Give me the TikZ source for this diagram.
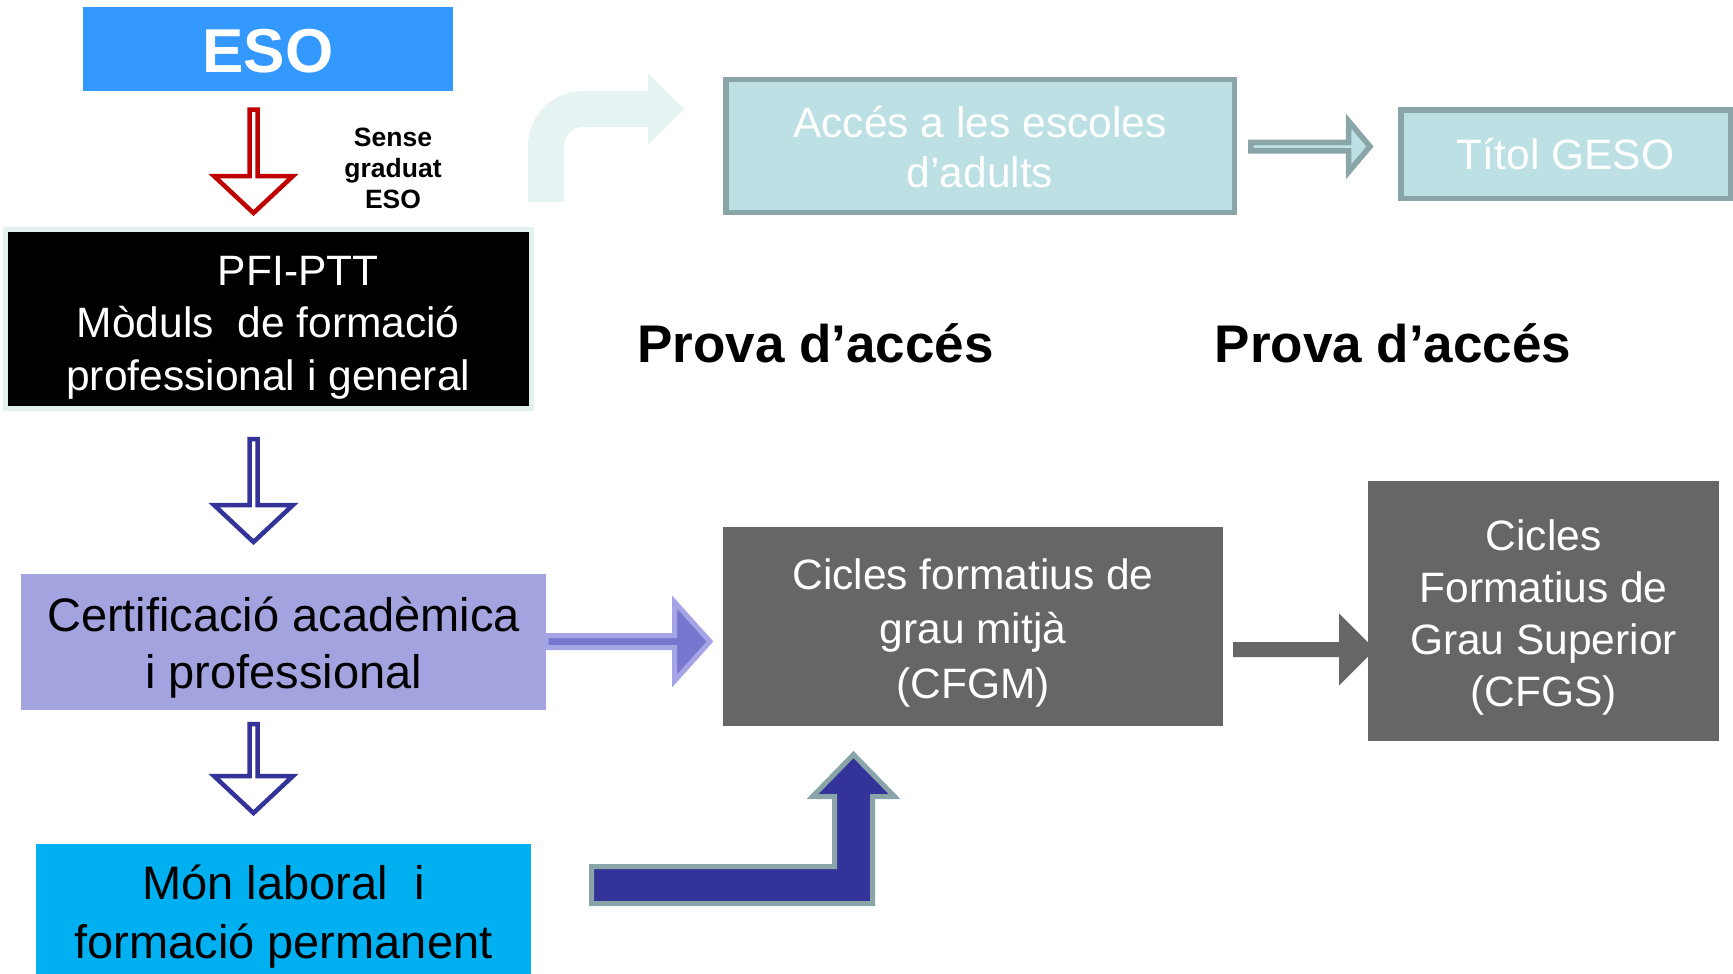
\documentclass[tikz,border=0pt]{standalone}
\usepackage{fontspec}
\setmainfont{Liberation Sans}
\usetikzlibrary{calc}
\definecolor{esoblue}{HTML}{3399FF}
\definecolor{pfiedge}{HTML}{E4F1F1}
\definecolor{certlav}{HTML}{A3A3DF}
\definecolor{monblue}{HTML}{00B0F0}
\definecolor{cfgray}{HTML}{666666}
\definecolor{adfill}{HTML}{BCE0E3}
\definecolor{adedge}{HTML}{89A5A8}
\definecolor{arrownavy}{HTML}{333399}
\definecolor{arrowred}{HTML}{C00000}
\definecolor{lavshaft}{HTML}{7777D0}
\definecolor{lavedge}{HTML}{A5A5E6}
\definecolor{faint}{HTML}{E6F3F3}
\tikzstyle{box}=[rectangle, inner sep=0, align=center]
\tikzstyle{darkbox}=[box, fill=cfgray]
\tikzstyle{adultbox}=[box, fill=adfill, draw=adedge, line width=5.5]
\tikzstyle{boxtext}=[inner sep=0, align=center, font=\fontsize{42.5}{52}\selectfont]
\tikzstyle{hollow}=[fill=white, line width=4.5, line join=miter]
\tikzstyle{prova}=[anchor=base, font=\bfseries\fontsize{53}{60}\selectfont]
% down arrow, white inside: style, top, tip
\newcommand{\downhollow}[3]{%
  \draw[hollow,#1] let \p1=(#2), \p2=(#3) in
    (\x1-4pt,\y1) -- (\x1+4pt,\y1) -- (\x1+4pt,\y2+37pt) -- (\x1+39.5pt,\y2+37pt)
    -- (\x2,\y2) -- (\x1-39.5pt,\y2+37pt) -- (\x1-4pt,\y2+37pt) -- cycle;}
% right arrow: style, tail, tip, shaft half, head half, head length
\newcommand{\blockright}[6]{%
  \path[#1] let \p1=(#2), \p2=(#3) in
    (\x1,\y2+#4) -- (\x2-#6,\y2+#4) -- (\x2-#6,\y2+#5) -- (\p2)
    -- (\x2-#6,\y2-#5) -- (\x2-#6,\y2-#4) -- (\x1,\y2-#4) -- cycle;}
\begin{document}
\begin{tikzpicture}[x=1pt,y=-1pt]
\useasboundingbox (0,0) rectangle (1733,974);
\clip (0,0) rectangle (1733,974);

% faint bent arrow
\fill[faint] (528,202) -- (528,146) arc[start angle=180,end angle=90,radius=55pt]
  -- (648,91) -- (648,73) -- (684,109) -- (648,145) -- (648,127) -- (583,127)
  arc[start angle=90,end angle=180,radius=19pt] -- (564,202) -- cycle;

\node[box, fill=esoblue, minimum width=370, minimum height=84] (eso) at (268,49) {};
\node[boxtext, text=white, font=\bfseries\fontsize{62}{70}\selectfont] (esotext) at ([yshift=-2pt]eso.center) {ESO};
\node[box, fill=black, draw=pfiedge, line width=5, minimum width=525.5, minimum height=178.5] (pfi) at (268.25,318.75) {};
\node[boxtext, text=white, font=\fontsize{42.5}{52.5}\selectfont] (pfitext) at ([yshift=-9pt]pfi.center) {\hspace*{60pt}PFI-PTT\\Mòduls\ \ de formació\\professional i general};
\node[box, fill=certlav, minimum width=525, minimum height=136] (cert) at (283.5,642) {};
\node[boxtext, font=\fontsize{47}{57}\selectfont] (certtext) at ([yshift=-5.5pt]cert.center) {Certificació acadèmica\\i professional};
\node[box, fill=monblue, minimum width=495, minimum height=139] (mon) at (283.5,913.5) {};
\node[boxtext, font=\fontsize{47}{59}\selectfont] (montext) at ([yshift=-3pt]mon.center) {Món laboral\ \ i\\formació permanent};

\node[font=\bfseries\fontsize{26.5}{31}\selectfont, align=center] (sense) at (393,168.5) {Sense\\graduat\\ESO};

\coordinate (redtop) at (253.5,109.5);
\coordinate (redtip) at (253.5,213);
\coordinate (bluetopa) at (253.5,439);
\coordinate (bluetipa) at (253.5,542);
\coordinate (bluetopb) at (253.5,724);
\coordinate (bluetipb) at (253.5,813);
\downhollow{draw=arrowred}{redtop}{redtip}
\downhollow{draw=arrownavy}{bluetopa}{bluetipa}
\downhollow{draw=arrownavy}{bluetopb}{bluetipb}

\node[adultbox, minimum width=508.5, minimum height=132.5] (adults) at (980,146) {};
\node[boxtext, text=white, font=\fontsize{42.5}{50}\selectfont] (adultstext) at ([yshift=-1.5pt]adults.center) {Accés a les escoles\\d’adults};
\node[adultbox, minimum width=329.5, minimum height=88.5] (geso) at (1565.5,154) {};
\node[boxtext, text=white] (gesotext) at (geso.center) {Títol GESO};
\coordinate (gesotail) at (1250.75,146.5);
\coordinate (gesotip) at (1370,146.5);
\blockright{draw=adedge, fill=adfill, line width=5.5, line join=miter}{gesotail}{gesotip}{4.25pt}{25.5pt}{21.5pt}

\node[prova] (prova1) at (815.5,362.5) {Prova d’accés};
\node[prova] (prova2) at (1393,362.5) {Prova d’accés};

\node[darkbox, minimum width=500, minimum height=199] (cfgm) at (973,626.5) {};
\node[boxtext, text=white, font=\fontsize{42.5}{54.5}\selectfont] (cfgmtext) at ([yshift=-6pt]cfgm.center) {Cicles formatius de\\grau mitjà\\(CFGM)};
\coordinate (lavtip) at (710,641.5);
\blockright{draw=lavedge, fill=lavshaft, line width=5, line join=miter}{cert.east}{lavtip}{6pt}{39.5pt}{35.5pt}

\coordinate (graytail) at (1233,649.5);
\coordinate (graytip) at (1375,649.5);
\blockright{fill=cfgray}{graytail}{graytip}{7.5pt}{36pt}{36pt}
\node[darkbox, minimum width=351, minimum height=260] (cfgs) at (1543.5,611) {};
\node[boxtext, text=white] (cfgstext) at ([yshift=-6pt]cfgs.center) {Cicles\\Formatius de\\Grau Superior\\(CFGS)};

% bent arrow from the working world
\coordinate (ltail) at (591.5,885);
\coordinate (ltip) at (853.5,754.5);
\path[draw=adedge, fill=arrownavy, line width=5, line join=miter] let \p1=(ltail), \p2=(ltip) in
  (\x1,\y1+18.5pt) -- (\x2-19pt,\y1+18.5pt) -- (\x2-19pt,\y2-42pt) -- (\x2-41pt,\y2-42pt)
  -- (\p2) -- (\x2+41pt,\y2-42pt) -- (\x2+19pt,\y2-42pt) -- (\x2+19pt,\y1-18.5pt)
  -- (\x1,\y1-18.5pt) -- cycle;
\end{tikzpicture}
\end{document}
